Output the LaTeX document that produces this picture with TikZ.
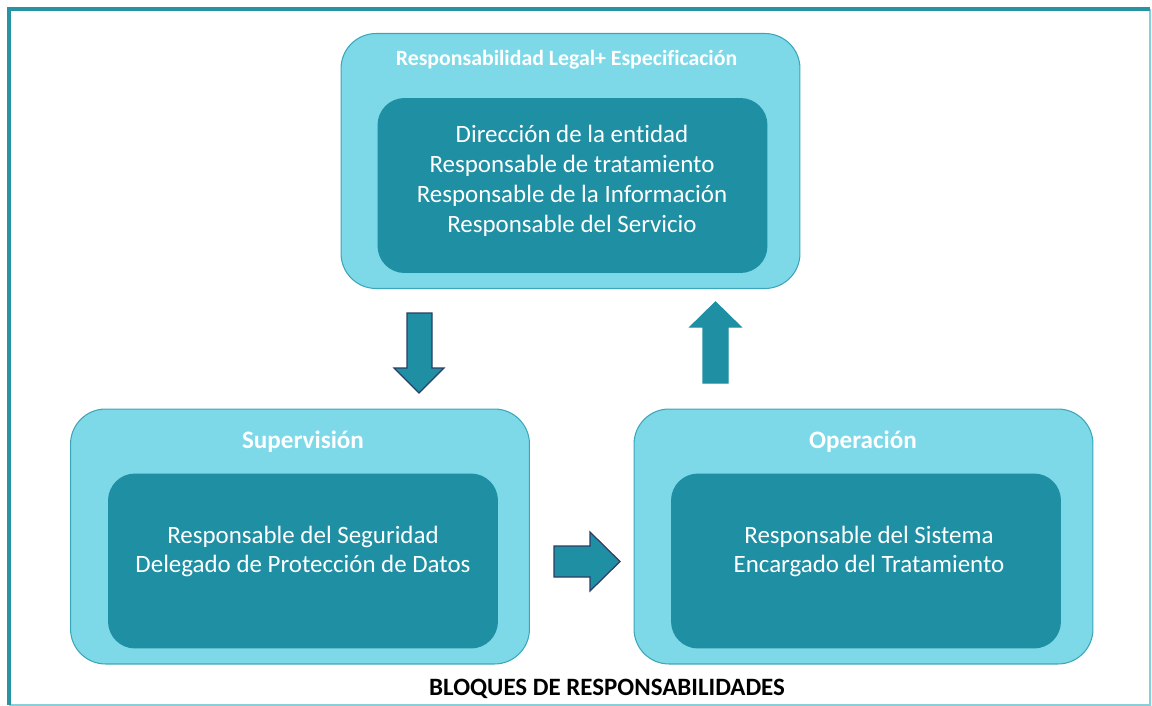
\documentclass[tikz,border=0pt]{standalone}
\usepackage{fontspec}
\setmainfont[Ligatures=NoCommon]{Carlito}
\usepackage{tikz}
\usetikzlibrary{positioning}

\definecolor{frameteal}{HTML}{2893A2}
\definecolor{framelight}{HTML}{8ACFD8}
\definecolor{blocklight}{HTML}{7DD9E8}
\definecolor{blockedge}{HTML}{3BA6B9}
\definecolor{blockdark}{HTML}{1F8FA3}
\definecolor{arrowedge}{HTML}{2A3E66}

\begin{document}
\begin{tikzpicture}[x=0.02cm, y=-0.02cm, semithick,
    outerblock/.style={draw=blockedge, fill=blocklight, line width=0.6pt, rounded corners=0.7cm,
        minimum width=9.18cm, minimum height=5.1cm},
    innerblock/.style={fill=blockdark, rounded corners=0.54cm, minimum width=7.8cm, minimum height=3.5cm},
    blocktitle/.style={text=white, font=\fontsize{14.3}{16}\selectfont\bfseries},
    blocktext/.style={text=white, align=center, font=\fontsize{14.2}{17}\selectfont},
    blockarrow/.style={fill=blockdark, line width=0.7pt, line join=miter}]
  \useasboundingbox (0,0) rectangle (1152,706);
  % frame
  \draw[framelight, line width=0.6pt] (1150,9) -- (1150,705) -- (9,705);
  \draw[frameteal, line width=2.4pt] (9,705) -- (9,9) -- (1150,9);

  % top block
  \node[outerblock] (legal) at (570.5,161) {};
  \node[innerblock] (legalin) at (572.5,185.5) {};
  \node[blocktitle, font=\fontsize{12.4}{14}\selectfont\bfseries] (legaltit) at (566.5,60) {Responsabilidad Legal+ Especificación};
  \node[blocktext] (legaltxt) at (572,181) {Dirección de la entidad\\Responsable de tratamiento\\Responsable de la Información\\Responsable del Servicio};

  % left block
  \node[outerblock] (superv) at (300,536.5) {};
  \node[innerblock] (supervin) at (303,561) {};
  \node[blocktitle] (supervtit) at (303,442) {Supervisión};
  \node[blocktext] (supervtxt) at (303,551.5) {Responsable del Seguridad\\Delegado de Protección de Datos};

  % right block
  \node[outerblock] (operac) at (863.5,536.5) {};
  \node[innerblock] (operacin) at (866,561) {};
  \node[blocktitle] (operactit) at (863,442) {Operación};
  \node[blocktext] (operactxt) at (869,551.5) {Responsable del Sistema\\Encargado del Tratamiento};

  % arrows
  \draw[blockarrow, draw=arrowedge] (407,313) -- (432,313) -- (432,368) -- (444,368) -- (419,393)
      -- (394,368) -- (407,368) -- cycle;
  \draw[blockarrow, draw=arrowedge] (554,546) -- (590,546) -- (590,532) -- (620,561.5) -- (590,591)
      -- (590,577) -- (554,577) -- cycle;
  \draw[blockarrow, draw=blockdark] (703,383) -- (703,327) -- (690,327) -- (715.5,302) -- (741,327)
      -- (728,327) -- (728,383) -- cycle;

  \node[font=\fontsize{14.2}{16}\selectfont\bfseries] (caption) at (607,689) {BLOQUES DE RESPONSABILIDADES};
\end{tikzpicture}
\end{document}
